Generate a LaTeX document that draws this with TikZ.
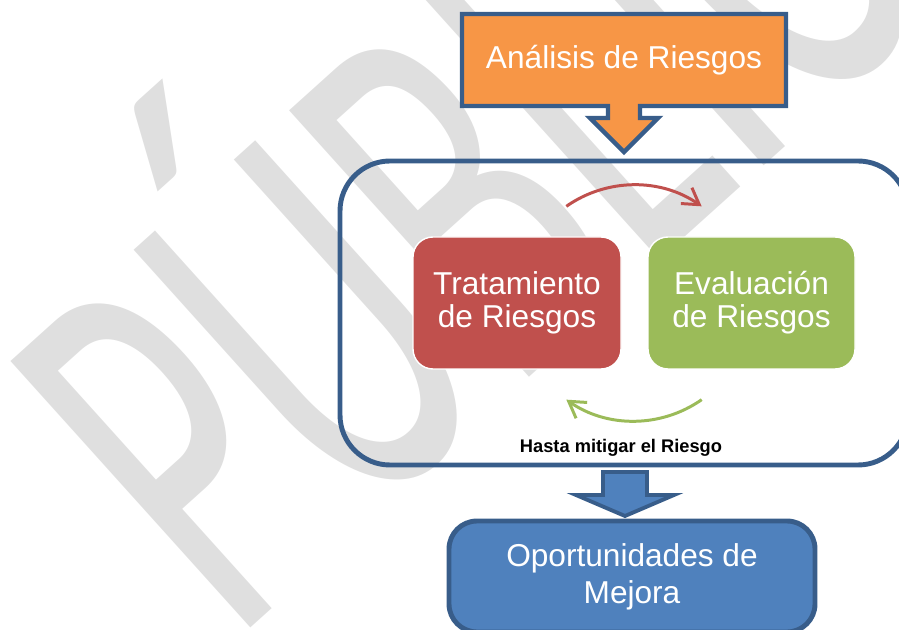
\documentclass[tikz,border=0pt]{standalone}
\usepackage{fontspec}
\setmainfont{Liberation Sans}
\newfontfamily\marcafont{Carlito}
\usepackage{tikz}
\usetikzlibrary{arrows.meta}
\definecolor{naranja}{HTML}{F79646}
\definecolor{rojo}{HTML}{C0504D}
\definecolor{verde}{HTML}{9BBB59}
\definecolor{azul}{HTML}{4F81BD}
\definecolor{borde}{HTML}{385D8A}
\definecolor{marca}{HTML}{DFDFDF}

\begin{document}
\begin{tikzpicture}[caja/.style={rounded corners=0.4cm, draw=white, line width=0.8pt, text=white, align=center, minimum width=4.16cm, minimum height=2.64cm, font=\fontsize{18}{18.7}\selectfont},
        flecha/.style={line width=1.7pt, -{Straight Barb[length=9pt, width=11pt]}}]
            \useasboundingbox (0, 0) rectangle (17.98, 12.58);
            \clip (0, 0) rectangle (17.98, 12.58);
            \node[rotate=42, xscale=0.58, anchor=base west, inner sep=0pt, text=marca, font=\marcafont\fontsize{318}{318}\selectfont] (marca) at (4.66, -0.3) {PÚBLICO};

            \filldraw[fill=naranja, draw=borde, line width=2.5pt] (9.24, 12.3) -- (15.72, 12.3) -- (15.72, 10.46) -- (12.8, 10.46) -- (12.8, 10.22) -- (13.16, 10.22) -- (12.48, 9.54) -- (11.8, 10.22) -- (12.16, 10.22) -- (12.16, 10.46) -- (9.24, 10.46) -- cycle;
            \node[text=white, font=\fontsize{18}{20}\selectfont] (analisis) at (12.48, 11.38) {Análisis de Riesgos};

            \node[draw=borde, line width=2.8pt, rounded corners=1cm, minimum width=11.36cm, minimum height=6.08cm] (ciclo) at (12.48, 6.32) {};
            \node[caja, fill=rojo] (tratamiento) at (10.34, 6.52) {Tratamiento\\de Riesgos};
            \node[caja, fill=verde, minimum width=4.14cm] (evaluacion) at (15.03, 6.52) {Evaluación\\de Riesgos};

            \coordinate (giro) at (12.68, 6.52);
            \draw[flecha, rojo] ([shift={(125:2.36)}]giro) arc[start angle=125, end angle=55, radius=2.36];
            \draw[flecha, verde] ([shift={(-55:2.36)}]giro) arc[start angle=-55, end angle=-125, radius=2.36];
            \node[font=\bfseries\fontsize{10.4}{12}\selectfont] (hasta) at (12.42, 3.62) {Hasta mitigar el Riesgo};

            \filldraw[fill=azul, draw=borde, line width=2.2pt] (12.06, 3.14) -- (12.94, 3.14) -- (12.94, 2.68) -- (13.48, 2.68) -- (12.5, 2.26) -- (11.52, 2.68) -- (12.06, 2.68) -- cycle;
            \node[draw=borde, fill=azul, line width=2.8pt, rounded corners=0.56cm, minimum width=7.32cm, minimum height=2.22cm, text=white, align=center, font=\fontsize{18}{21}\selectfont] (mejora) at (12.64, 1.05) {Oportunidades de\\Mejora};
        \end{tikzpicture}
\end{document}
